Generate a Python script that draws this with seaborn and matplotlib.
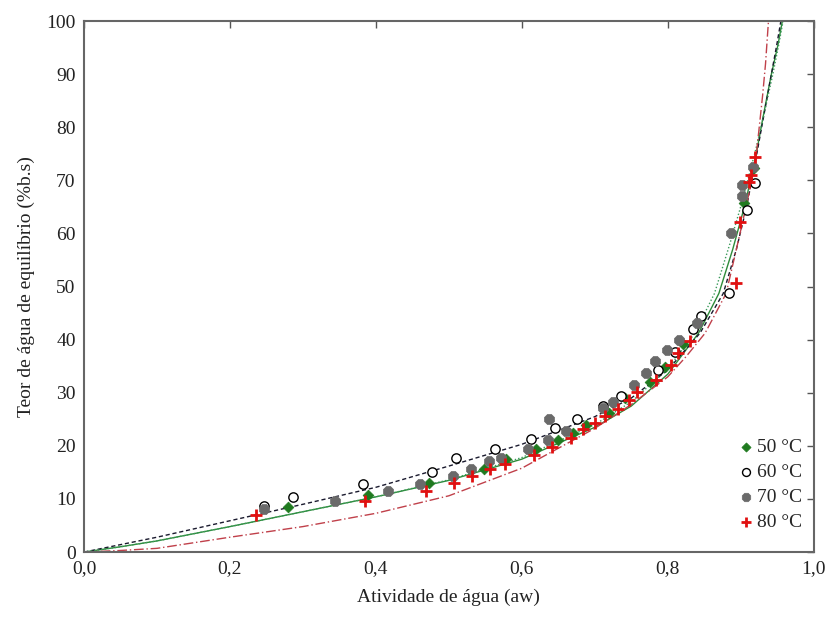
import matplotlib
matplotlib.use("Agg")
import matplotlib.pyplot as plt
import seaborn as sns
import pandas as pd
from matplotlib.ticker import FuncFormatter, MultipleLocator

sns.set_theme(style="white")
plt.rcParams['font.family'] = ['Liberation Serif', 'DejaVu Serif']

# ---- observed data ----
aw_50 = [0.279, 0.389, 0.473, 0.548, 0.578, 0.620, 0.650, 0.670, 0.688, 0.720,
         0.742, 0.775, 0.796, 0.821, 0.840, 0.905, 0.918]
x_50 = [8.4, 10.7, 13.1, 15.6, 17.6, 19.5, 21.1, 22.5, 24.0, 26.1,
        29.1, 32.1, 34.9, 39.2, 43.0, 65.7, 72.4]

aw_60 = [0.246, 0.287, 0.383, 0.477, 0.510, 0.563, 0.612, 0.645, 0.675, 0.711,
         0.736, 0.787, 0.810, 0.835, 0.846, 0.884, 0.909, 0.919]
x_60 = [8.7, 10.4, 12.9, 15.0, 17.8, 19.4, 21.3, 23.4, 25.0, 27.5,
        29.4, 34.3, 37.7, 42.0, 44.5, 48.8, 64.5, 69.5]

aw_70 = [0.246, 0.344, 0.416, 0.461, 0.505, 0.531, 0.555, 0.572, 0.608, 0.636,
         0.637, 0.660, 0.711, 0.725, 0.754, 0.770, 0.783, 0.799, 0.815, 0.840,
         0.887, 0.902, 0.902, 0.917]
x_70 = [8.2, 9.7, 11.5, 12.9, 14.4, 15.6, 17.1, 17.8, 19.4, 21.2,
        25.0, 22.8, 27.1, 28.3, 31.4, 33.8, 36.0, 38.0, 40.0, 43.2,
        60.1, 67.1, 69.2, 72.6]

aw_80 = [0.236, 0.385, 0.468, 0.507, 0.532, 0.556, 0.577, 0.617, 0.642, 0.667,
         0.684, 0.700, 0.714, 0.732, 0.747, 0.758, 0.784, 0.804, 0.814, 0.830,
         0.894, 0.899, 0.912, 0.914, 0.919]
x_80 = [7.0, 9.7, 11.5, 13.1, 14.3, 15.6, 16.6, 18.3, 19.8, 21.4,
        23.1, 24.4, 25.6, 26.9, 28.6, 30.2, 32.5, 35.3, 37.4, 39.8,
        50.7, 62.2, 69.7, 71.0, 74.4]

# ---- fitted curves ----
c50_aw = [0.0, 0.05, 0.1, 0.2, 0.3, 0.4, 0.5, 0.6, 0.7, 0.75, 0.8, 0.842, 0.87, 0.889, 0.905, 0.92, 0.93, 0.942, 0.951, 0.957]
c50_x = [0.0, 1.0, 2.1, 4.8, 7.6, 10.4, 13.5, 17.5, 23.5, 27.5, 33.5, 41.2, 48.7, 57.0, 65.0, 74.0, 81.5, 90.0, 95.5, 100.0]

c60_aw = [0.0, 0.05, 0.1, 0.2, 0.3, 0.4, 0.5, 0.6, 0.7, 0.75, 0.8, 0.844, 0.876, 0.894, 0.908, 0.92, 0.93, 0.942, 0.95, 0.955]
c60_x = [0.0, 1.4, 2.8, 5.9, 9.0, 12.2, 16.2, 20.3, 25.5, 29.0, 34.3, 41.2, 48.7, 57.0, 65.0, 73.5, 81.0, 90.0, 96.0, 100.0]

c70_aw = [0.0, 0.05, 0.1, 0.2, 0.3, 0.4, 0.5, 0.6, 0.7, 0.75, 0.8, 0.837, 0.864, 0.885, 0.902, 0.92, 0.932, 0.944, 0.952, 0.958]
c70_x = [0.0, 1.0, 2.1, 4.8, 7.6, 10.4, 13.6, 17.8, 24.0, 28.3, 34.5, 41.2, 48.7, 58.0, 66.0, 75.5, 82.5, 90.0, 95.5, 100.0]

c80_aw = [0.0, 0.05, 0.1, 0.2, 0.3, 0.4, 0.5, 0.6, 0.7, 0.75, 0.8, 0.825, 0.851, 0.88, 0.899, 0.912, 0.922, 0.93, 0.934, 0.938]
c80_x = [0.0, 0.3, 0.7, 2.8, 4.8, 7.3, 10.6, 15.8, 23.3, 27.8, 33.0, 36.8, 41.2, 48.7, 60.0, 68.0, 75.7, 86.0, 92.0, 100.0]

labels = ["50 °C", "60 °C", "70 °C", "80 °C"]
xticks = [0.0, 0.2, 0.4, 0.6, 0.8, 1.0]
yticks = [0, 10, 20, 30, 40, 50, 60, 70, 80, 90, 100]

fig = plt.figure(figsize=(8.32, 6.21), dpi=100)
ax = fig.add_axes([0.101, 0.111, 0.877, 0.855])

# curves
sns.lineplot(x=c50_aw, y=c50_x, ax=ax, sort=False, estimator=None, color="#2e8b3a", lw=1.0, ls="-")
sns.lineplot(x=c60_aw, y=c60_x, ax=ax, sort=False, estimator=None, color="#1a1a2e", lw=1.0, ls=(0, (3, 2)))
sns.lineplot(x=c70_aw, y=c70_x, ax=ax, sort=False, estimator=None, color="#3a9a5a", lw=1.0, ls=(0, (1, 1.5)))
sns.lineplot(x=c80_aw, y=c80_x, ax=ax, sort=False, estimator=None, color="#c0404a", lw=1.0, ls=(0, (7, 2, 1, 2)))

# points
sns.scatterplot(x=aw_50, y=x_50, ax=ax, marker="D", s=30, color="#1f7a1f", edgecolor="#1f7a1f", linewidth=0.5, label=labels[0], zorder=5)
sns.scatterplot(x=aw_60, y=x_60, ax=ax, marker="o", s=45, facecolor="white", edgecolor="black", linewidth=1.0, label=labels[1], zorder=5)
sns.scatterplot(x=aw_70, y=x_70, ax=ax, marker="8", s=60, color="#6a6a6a", edgecolor="#6a6a6a", linewidth=0.5, label=labels[2], zorder=5)
sns.scatterplot(x=aw_80, y=x_80, ax=ax, marker="+", s=70, color="#e01010", linewidth=2.0, label=labels[3], zorder=6)

ax.set_xlim(0, 1.0)
ax.set_ylim(0, 100)
ax.set_xticks(xticks)
ax.set_yticks(yticks)
ax.xaxis.set_major_formatter(FuncFormatter(lambda v, p: f"{v:.1f}".replace(".", ",")))
ax.yaxis.set_major_formatter(FuncFormatter(lambda v, p: f"{int(round(v))}"))

ax.tick_params(axis="both", which="major", labelsize=14, colors="#222222", direction="in",
               length=0, pad=6)
ax.tick_params(axis="y", right=True, labelright=False, length=5, width=1, color="#555555", left=False)
ax.tick_params(axis="x", top=True, labeltop=False, length=5, width=1, color="#555555", bottom=False)
ax.tick_params(axis="both", labelcolor="#222222")

for s in ax.spines.values():
    s.set_color("#666666")
    s.set_linewidth(1.5)

ax.set_xlabel("Atividade de água (aw)", fontsize=14, color="#222222", labelpad=8)
ax.set_ylabel("Teor de água de equilíbrio (%b.s)", fontsize=14, color="#222222", labelpad=8)

leg = ax.legend(loc="lower right", frameon=False, fontsize=14, handlelength=0.5,
                handletextpad=0.3, labelspacing=0.38, borderaxespad=0.0,
                bbox_to_anchor=(0.995, 0.025), markerscale=0.85)

fig.savefig("out.png", dpi=100)
